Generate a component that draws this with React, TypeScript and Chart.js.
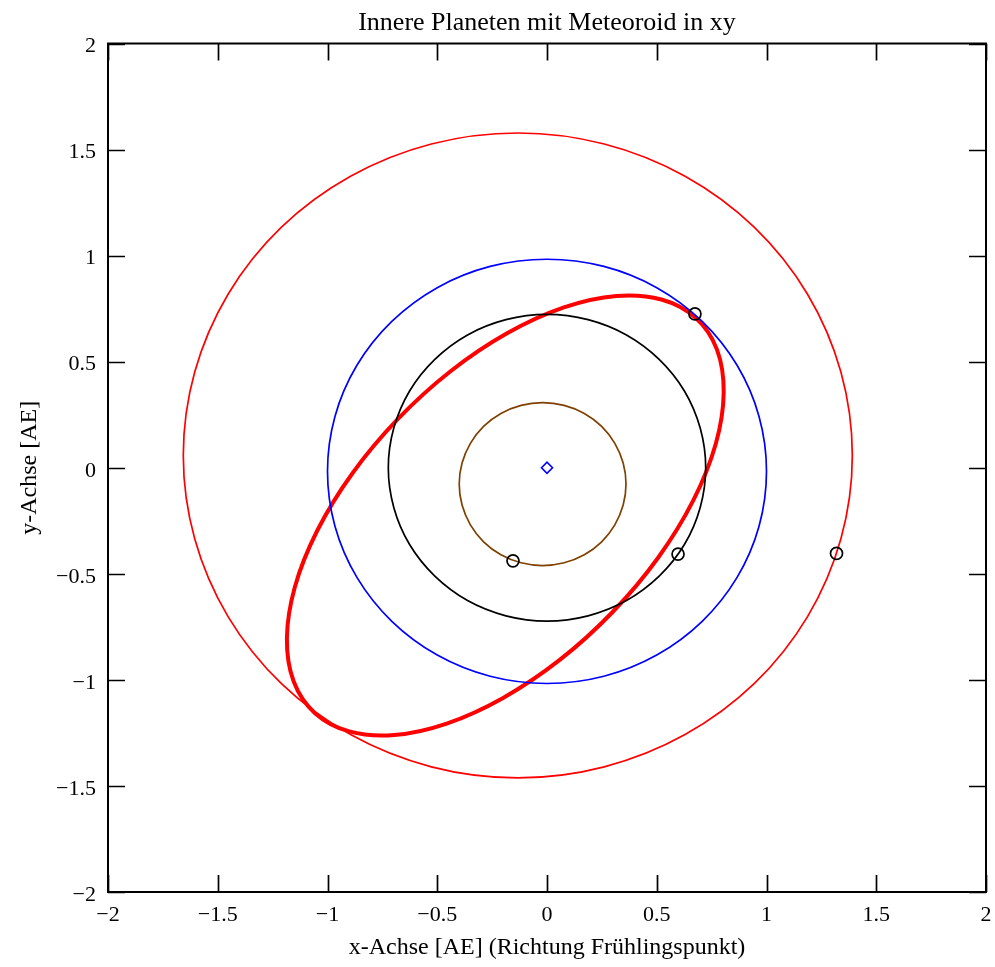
import { useEffect, useRef } from "react";
import { Chart, registerables } from "chart.js";

Chart.register(...registerables);

const chartTitle = "Innere Planeten mit Meteoroid in xy";
const xAxisTitle = "x-Achse [AE] (Richtung Frühlingspunkt)";
const yAxisTitle = "y-Achse [AE]";

const xTickValues = [-2, -1.5, -1, -0.5, 0, 0.5, 1, 1.5, 2];
const xTickLabels = ["−2", "−1.5", "−1", "−0.5", "0", "0.5", "1", "1.5", "2"];
const yTickValues = [-2, -1.5, -1, -0.5, 0, 0.5, 1, 1.5, 2];
const yTickLabels = ["−2", "−1.5", "−1", "−0.5", "0", "0.5", "1", "1.5", "2"];

type P = [number, number];

const mercuryOrbit: P[] = [
  [0.36, -0.077], [0.347, 0.022], [0.309, 0.115], [0.249, 0.195], [0.17, 0.256], [0.078, 0.294],
  [-0.02, 0.307], [-0.118, 0.294], [-0.21, 0.256], [-0.289, 0.195], [-0.349, 0.115], [-0.387, 0.022],
  [-0.4, -0.077], [-0.387, -0.176], [-0.349, -0.269], [-0.289, -0.349], [-0.21, -0.41], [-0.118, -0.448],
  [-0.02, -0.461], [0.078, -0.448], [0.17, -0.41], [0.249, -0.349], [0.309, -0.269], [0.347, -0.176],
];

const venusOrbit: P[] = [
  [0.723, 0], [0.698, 0.187], [0.626, 0.362], [0.511, 0.511], [0.362, 0.626], [0.187, 0.698],
  [0, 0.723], [-0.187, 0.698], [-0.362, 0.626], [-0.511, 0.511], [-0.626, 0.362], [-0.698, 0.187],
  [-0.723, 0], [-0.698, -0.187], [-0.626, -0.362], [-0.511, -0.511], [-0.362, -0.626], [-0.187, -0.698],
  [0, -0.723], [0.187, -0.698], [0.362, -0.626], [0.511, -0.511], [0.626, -0.362], [0.698, -0.187],
];

const earthOrbit: P[] = [
  [1.0, -0.017], [0.966, 0.242], [0.866, 0.483], [0.707, 0.69], [0.5, 0.849], [0.259, 0.949],
  [0, 0.983], [-0.259, 0.949], [-0.5, 0.849], [-0.707, 0.69], [-0.866, 0.483], [-0.966, 0.242],
  [-1.0, -0.017], [-0.966, -0.276], [-0.866, -0.517], [-0.707, -0.724], [-0.5, -0.883], [-0.259, -0.983],
  [0, -1.017], [0.259, -0.983], [0.5, -0.883], [0.707, -0.724], [0.866, -0.517], [0.966, -0.276],
];

const marsOrbit: P[] = [
  [1.391, 0.058], [1.339, 0.451], [1.187, 0.818], [0.945, 1.133], [0.629, 1.374], [0.261, 1.526],
  [-0.133, 1.578], [-0.527, 1.526], [-0.895, 1.374], [-1.211, 1.133], [-1.453, 0.818], [-1.605, 0.451],
  [-1.657, 0.058], [-1.605, -0.335], [-1.453, -0.702], [-1.211, -1.017], [-0.895, -1.258], [-0.527, -1.41],
  [-0.133, -1.462], [0.261, -1.41], [0.629, -1.258], [0.945, -1.017], [1.187, -0.702], [1.339, -0.335],
];

const meteoroidOrbit: P[] = [
  [0.677, 0.707], [0.521, 0.793], [0.316, 0.81], [0.077, 0.756], [-0.18, 0.635], [-0.438, 0.456],
  [-0.679, 0.23], [-0.887, -0.027], [-1.047, -0.297], [-1.149, -0.563], [-1.185, -0.805], [-1.154, -1.008],
  [-1.057, -1.157], [-0.901, -1.243], [-0.696, -1.26], [-0.457, -1.206], [-0.2, -1.085], [0.058, -0.906],
  [0.299, -0.68], [0.507, -0.423], [0.667, -0.153], [0.769, 0.113], [0.805, 0.355], [0.774, 0.558],
];

const planetPositions: P[] = [
  [-0.155, -0.439],
  [0.597, -0.407],
  [0.674, 0.725],
  [1.319, -0.404],
];
const sunPosition: P[] = [[0, 0]];

const toXY = (pts: P[]) => pts.map(([x, y]) => ({ x, y }));

// closed curve: one extra neighbour on each side so every visible segment is smooth;
// the two helper segments at the ends are made invisible.
const closedLoop = (pts: P[]) => {
  const n = pts.length;
  return toXY([pts[n - 1], ...pts, pts[0], pts[1]]);
};

const loopSegment = (count: number) => ({
  borderColor: (ctx: any) =>
    ctx.p0DataIndex === 0 || ctx.p1DataIndex === count - 1 ? "rgba(0,0,0,0)" : undefined,
});

const TICK_LEN = 17;

const frameTicks = {
  id: "frameTicks",
  afterDatasetsDraw(chart: any) {
    const { ctx, chartArea: a, scales } = chart;
    const xs = scales.x;
    const ys = scales.y;
    ctx.save();
    ctx.strokeStyle = "#000";
    ctx.lineWidth = 1.7;
    ctx.beginPath();
    xs.ticks.forEach((t: any) => {
      const px = Math.round(xs.getPixelForValue(t.value)) + 0.5;
      ctx.moveTo(px, a.bottom);
      ctx.lineTo(px, a.bottom - TICK_LEN);
      ctx.moveTo(px, a.top);
      ctx.lineTo(px, a.top + TICK_LEN);
    });
    ys.ticks.forEach((t: any) => {
      const py = Math.round(ys.getPixelForValue(t.value)) + 0.5;
      ctx.moveTo(a.left, py);
      ctx.lineTo(a.left + TICK_LEN, py);
      ctx.moveTo(a.right, py);
      ctx.lineTo(a.right - TICK_LEN, py);
    });
    ctx.stroke();
    ctx.lineWidth = 2;
    ctx.strokeRect(a.left, a.top, a.right - a.left, a.bottom - a.top);
    ctx.restore();
  },
};

const FONT = "'Liberation Serif', 'Times New Roman', serif";

export default function App() {
  const canvasRef = useRef<HTMLCanvasElement | null>(null);

  useEffect(() => {
    document.body.style.margin = "0";
    const canvas = canvasRef.current;
    if (!canvas) return;

    const orbit = (label: string, pts: P[], color: string, width: number, tension = 0.34) => {
      const data = closedLoop(pts);
      return {
        label,
        data,
        showLine: true,
        pointRadius: 0,
        pointHoverRadius: 0,
        fill: false,
        tension,
        borderColor: color,
        borderWidth: width,
        segment: loopSegment(data.length),
      } as any;
    };

    const chart = new Chart(canvas, {
      type: "scatter",
      data: {
        datasets: [
          {
            label: "Sonne",
            data: toXY(sunPosition),
            showLine: false,
            pointStyle: "rectRot",
            pointRadius: 5.5,
            pointBorderWidth: 1.6,
            pointBorderColor: "#0000ff",
            pointBackgroundColor: "rgba(0,0,0,0)",
            borderColor: "#0000ff",
            backgroundColor: "rgba(0,0,0,0)",
          } as any,
          {
            label: "Positionen",
            data: toXY(planetPositions),
            showLine: false,
            pointStyle: "circle",
            pointRadius: 6,
            pointBorderWidth: 1.7,
            pointBorderColor: "#000000",
            pointBackgroundColor: "rgba(0,0,0,0)",
            borderColor: "#000000",
            backgroundColor: "rgba(0,0,0,0)",
          } as any,
          orbit("Merkur", mercuryOrbit, "#804000", 1.7),
          orbit("Venus", venusOrbit, "#000000", 1.7),
          orbit("Erde", earthOrbit, "#0000ff", 1.7),
          orbit("Mars", marsOrbit, "#ff0000", 1.7),
          orbit("Meteoroid", meteoroidOrbit, "#ff0000", 4),
        ],
      },
      options: {
        animation: false,
        responsive: true,
        maintainAspectRatio: false,
        layout: { padding: { left: 0, right: 9, top: 0, bottom: 0 } },
        plugins: {
          legend: { display: false },
          tooltip: { enabled: false },
          title: {
            display: true,
            fullSize: false,
            text: chartTitle,
            color: "#000",
            font: { family: FONT, size: 26, weight: "normal" },
            padding: { top: 8, bottom: 4.3 },
          },
        },
        scales: {
          x: {
            type: "linear",
            min: -2,
            max: 2,
            afterFit: (s: any) => {
              s.height = 75;
              s.paddingLeft = 0;
              s.paddingRight = 0;
            },
            afterBuildTicks: (s: any) => { s.ticks = xTickValues.map((v) => ({ value: v })); },
            ticks: {
              color: "#000",
              font: { family: FONT, size: 22 },
              padding: 10,
              maxRotation: 0,
              autoSkip: false,
              callback: (v: any) => {
                const i = xTickValues.indexOf(Number(v));
                return i >= 0 ? xTickLabels[i] : "";
              },
            },
            grid: { display: false, drawTicks: false },
            border: { display: false },
            title: {
              display: true,
              text: xAxisTitle,
              color: "#000",
              font: { family: FONT, size: 24 },
              padding: { top: 0, bottom: 5 },
            },
          },
          y: {
            type: "linear",
            min: -2,
            max: 2,
            afterFit: (s: any) => { s.width = 108; },
            afterBuildTicks: (s: any) => { s.ticks = yTickValues.map((v) => ({ value: v })); },
            ticks: {
              color: "#000",
              font: { family: FONT, size: 22 },
              padding: 12,
              labelOffset: 3,
              autoSkip: false,
              callback: (v: any) => {
                const i = yTickValues.indexOf(Number(v));
                return i >= 0 ? yTickLabels[i] : "";
              },
            },
            grid: { display: false, drawTicks: false },
            border: { display: false },
            title: {
              display: true,
              text: yAxisTitle,
              color: "#000",
              font: { family: FONT, size: 24 },
              padding: { top: 15, bottom: 0 },
            },
          },
        },
      },
      plugins: [frameTicks],
    });
    return () => chart.destroy();
  }, []);

  return (
    <div style={{ position: "absolute", left: 0, top: 0, width: 995, height: 967 }}>
      <canvas ref={canvasRef} />
    </div>
  );
}
